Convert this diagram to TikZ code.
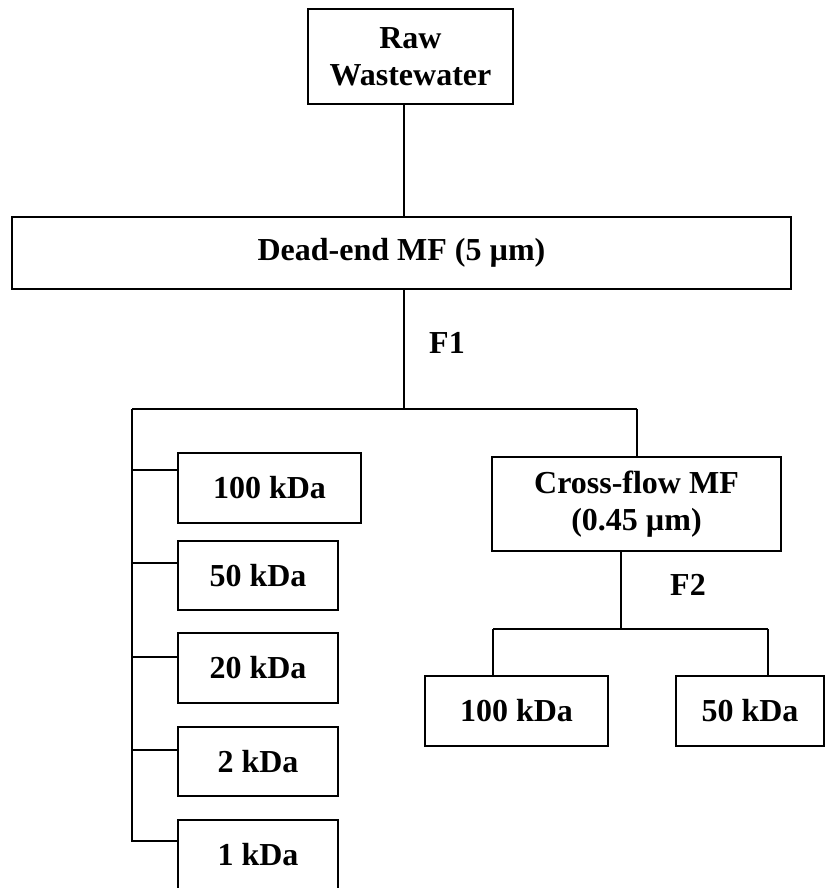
\documentclass[tikz,border=0pt]{standalone}
\usepackage{fontspec}
\setmainfont{Liberation Serif}
\begin{document}
\begin{tikzpicture}[x=1pt,y=-1pt,
  box/.style={draw, line width=2.1pt, inner sep=0pt, outer sep=0pt, align=center,
    font=\fontsize{32}{37}\selectfont\bfseries},
  link/.style={line width=1.9pt},
  tag/.style={inner sep=0pt, font=\fontsize{32}{37}\selectfont\bfseries}]
\useasboundingbox (0,0) rectangle (825,888);

% source and first filtration stage
\node[box, minimum width=205pt, minimum height=95pt] (raw) at (410.5,56.5) {Raw\\Wastewater};
\node[box, minimum width=779pt, minimum height=72pt] (dead) at (401.5,253) {Dead-end MF (5 µm)};

% ultrafiltration of F1
\node[box, minimum width=183pt, minimum height=70pt] (a100) at (269.5,488) {100 kDa};
\node[box, minimum width=160pt, minimum height=69pt] (a50) at (258,575.5) {50 kDa};
\node[box, minimum width=160pt, minimum height=70pt] (a20) at (258,668) {20 kDa};
\node[box, minimum width=160pt, minimum height=69pt] (a2) at (258,761.5) {2 kDa};
\node[box, minimum width=160pt, minimum height=70pt] (a1) at (258,855) {1 kDa};

% cross-flow branch
\node[box, minimum width=289pt, minimum height=94pt] (cross) at (636.5,504) {Cross-flow MF\\(0.45 µm)};
\node[box, minimum width=183pt, minimum height=70pt] (b100) at (516.5,711) {100 kDa};
\node[box, minimum width=148pt, minimum height=70pt] (b50) at (750,711) {50 kDa};

% stream labels
\node[tag] (f1) at (447,343) {F1};
\node[tag] (f2) at (688,585) {F2};

% junction points
\coordinate (j1) at (404,409);
\coordinate (trunkL) at (132,409);
\coordinate (trunkR) at (637,409);
\coordinate (trunkEnd) at (132,841);
\coordinate (t100) at (132,470);
\coordinate (t50) at (132,563);
\coordinate (t20) at (132,657);
\coordinate (t2) at (132,750);
\coordinate (j2) at (621,629);
\coordinate (jL) at (493,629);
\coordinate (jR) at (768,629);

% connectors
\draw[link] (raw.south -| j1) -- (dead.north -| j1);
\draw[link] (dead.south -| j1) -- (j1);
\draw[link] (trunkL) -- (trunkR);
\draw[link] (trunkL) -- (trunkEnd) -- (trunkEnd -| a1.west);
\draw[link] (t100) -- (t100 -| a100.west);
\draw[link] (t50) -- (t50 -| a50.west);
\draw[link] (t20) -- (t20 -| a20.west);
\draw[link] (t2) -- (t2 -| a2.west);
\draw[link] (trunkR) -- (trunkR |- cross.north);
\draw[link] (cross.south -| j2) -- (j2);
\draw[link] (jL) -- (jR);
\draw[link] (jL) -- (jL |- b100.north);
\draw[link] (jR) -- (jR |- b50.north);
\end{tikzpicture}
\end{document}
